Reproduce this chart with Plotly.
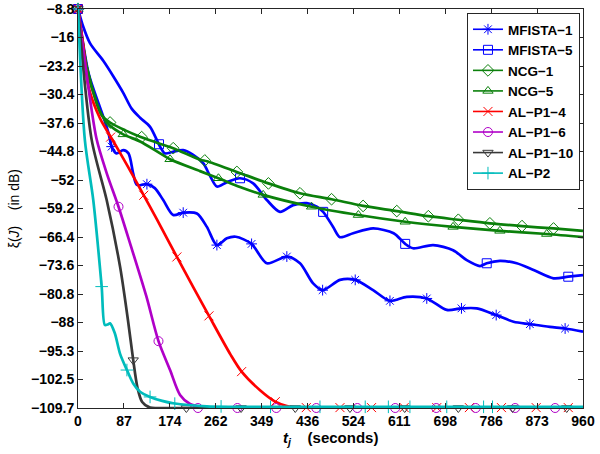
import numpy as np
import plotly.graph_objects as go

# ---------------- data ----------------
x_tick_labels = ["0", "87", "174", "262", "349", "436", "524", "611", "698", "786", "873", "960"]
y_tick_labels = ["−8.8", "−16", "−23.2", "−30.4", "−37.6", "−44.8", "−52", "−59.2",
                 "−66.4", "−73.6", "−80.8", "−88", "−95.3", "−102.5", "−109.7"]
x_min, x_max = 0, 960
y_min, y_max = -109.7, -8.8

mfista1_t = [0, 20, 40, 48, 58, 64, 73, 86, 96, 105, 112, 131, 146, 162, 181, 200, 226, 245, 264, 283,
             300, 330, 359, 397, 422, 447, 465, 498, 527, 561, 593, 625, 663, 701, 729, 758, 795, 828,
             859, 897, 926, 960]
mfista1_db = [-8.8, -25, -33, -36.0, -40.2, -43.6, -45.3, -44.5, -45.3, -50.4, -53.3, -53.1, -54.1, -57.1,
              -60.9, -60.3, -60.5, -63.9, -68.5, -66.8, -66.4, -68.2, -73.1, -71.4, -73.1, -78.2, -79.9,
              -77.3, -77.3, -79.9, -82.6, -81.6, -82.0, -84.9, -84.5, -84.5, -86.2, -87.9, -88.5, -89.2,
              -89.6, -90.4]
mfista1_mk_t = [0, 64, 131, 200, 264, 330, 397, 465, 527, 593, 663, 729, 795, 859, 926]
mfista1_mk_db = [-8.8, -43.6, -53.1, -60.3, -68.5, -68.2, -71.4, -79.9, -77.3, -82.6, -82.0, -84.5,
                 -86.2, -88.5, -89.6]

mfista5_t = [0, 10, 23, 48, 67, 86, 102, 118, 137, 156, 165, 181, 200, 219, 238, 251, 264, 283, 308,
             333, 359, 384, 409, 435, 454, 466, 485, 498, 523, 561, 600, 622, 637, 675, 713, 739, 764,
             777, 802, 834, 866, 904, 932, 960]
mfista5_db = [-8.8, -13.3, -17.5, -21.9, -25.8, -30.0, -34.0, -36.3, -38.6, -43.6, -45.3, -44.9, -44.5,
              -45.7, -47.8, -51.0, -53.7, -52.6, -51.6, -52.9, -57.1, -60.1, -58.4, -57.9, -58.8, -60.1,
              -63.9, -66.5, -65.5, -64.3, -65.5, -68.2, -69.3, -68.5, -69.8, -72.3, -73.8, -73.1, -72.5,
              -73.1, -74.8, -76.9, -76.5, -76.1]
mfista5_mk_t = [0, 154, 308, 466, 622, 777, 932]
mfista5_mk_db = [-8.8, -43.0, -51.6, -60.1, -68.2, -73.1, -76.5]

ncg1_t = [0, 16.5, 35.5, 45, 61, 90, 118, 150, 181, 232, 245, 302, 362, 422, 482, 542, 606, 666, 723,
          783, 844, 904, 960]
ncg1_db = [-8.8, -23.4, -32.6, -35.6, -37.5, -39.5, -41.1, -42.6, -44.0, -46.9, -47.3, -50.0, -52.9,
           -55.4, -56.9, -58.6, -59.9, -61.2, -62.1, -63.0, -63.7, -64.3, -64.9]
ncg1_mk_t = [0, 61, 121, 181, 241, 302, 362, 422, 482, 542, 606, 666, 723, 783, 844, 904]
ncg1_mk_db = [-8.8, -37.5, -41.2, -44.0, -47.1, -50.0, -52.9, -55.4, -56.9, -58.6, -59.9, -61.2,
              -62.1, -63.0, -63.7, -64.3]

ncg5_t = [0, 16.5, 35.5, 45, 60, 86, 118, 150, 175, 232, 267, 308, 352, 444, 533, 622, 713, 802, 891, 960]
ncg5_db = [-8.8, -23.4, -32.6, -35.6, -38.2, -40.5, -42.3, -44.8, -46.8, -49.8, -51.6, -53.8, -55.8,
           -58.8, -60.9, -62.6, -63.9, -64.9, -65.7, -66.5]
ncg5_mk_t = [0, 86, 175, 267, 352, 444, 533, 622, 713, 802, 891]
ncg5_mk_db = [-8.8, -40.5, -46.8, -51.6, -55.8, -58.8, -60.9, -62.6, -63.9, -64.9, -65.7]

alp14_t = [0, 10, 20, 42, 66, 93, 118, 150, 188, 249, 290, 311, 346, 375, 397, 420, 960]
alp14_db = [-8.8, -18.0, -28.5, -36.5, -42.0, -48.2, -54.2, -62.0, -71.5, -86.4, -96.2, -100.5, -105.2,
            -108.1, -109.2, -109.6, -109.6]
alp14_mk_t = [0, 62, 125, 188, 249, 311, 375, 434, 498, 558, 620, 682, 744, 805, 871, 932]
alp14_mk_db = [-8.8, -41.2, -55.9, -71.5, -86.4, -100.5, -108.1, -109.6, -109.6, -109.6, -109.6,
               -109.6, -109.6, -109.6, -109.6, -109.6]

alp16_t = [0, 15, 35, 55, 77, 100, 130, 153, 175, 194, 213, 235, 260, 960]
alp16_db = [-8.8, -24.0, -41.5, -50.5, -58.8, -68.5, -81.5, -92.8, -100.1, -106.4, -108.7, -109.5,
            -109.7, -109.7]
alp16_mk_t = [0, 77, 153, 228, 303, 377, 453, 531, 603, 681, 756, 831, 907]
alp16_mk_db = [-8.8, -58.8, -92.8, -109.7, -109.7, -109.7, -109.7, -109.7, -109.7, -109.7, -109.7,
               -109.7, -109.7]

alp110_t = [0, 26, 54.5, 80, 95, 105, 113, 122, 137, 160, 960]
alp110_db = [-8.8, -41.9, -57.1, -74.0, -87.5, -97.6, -104.5, -108.2, -109.6, -109.7, -109.7]
alp110_mk_t = [0, 105, 206, 310, 413, 517, 621, 723, 826, 929]
alp110_mk_db = [-8.8, -97.6, -109.7, -109.7, -109.7, -109.7, -109.7, -109.7, -109.7, -109.7]

alp2_t = [0, 13, 29, 45, 51, 56, 61, 70, 80, 93, 105, 118, 137, 160, 181, 245, 300, 960]
alp2_db = [-8.8, -41.9, -57.1, -79.0, -88.7, -88.6, -88.3, -90.8, -96.0, -100.1, -103.5, -105.6,
           -106.9, -107.9, -108.5, -109.3, -109.4, -109.4]
alp2_mk_t = [0, 45, 93, 137, 184, 272, 366, 460, 546, 590, 631, 701, 771, 788]
alp2_mk_db = [-8.8, -79.0, -100.1, -106.9, -108.6, -109.3, -109.4, -109.4, -109.4, -109.4, -109.4,
              -109.4, -109.4, -109.4]

series = [
    ("MFISTA−1", mfista1_t, mfista1_db, mfista1_mk_t, mfista1_mk_db, "#0000ff", "asterisk-open"),
    ("MFISTA−5", mfista5_t, mfista5_db, mfista5_mk_t, mfista5_mk_db, "#0000ff", "square-open"),
    ("NCG−1", ncg1_t, ncg1_db, ncg1_mk_t, ncg1_mk_db, "#0b800b", "diamond-open"),
    ("NCG−5", ncg5_t, ncg5_db, ncg5_mk_t, ncg5_mk_db, "#0b800b", "triangle-up-open"),
    ("AL−P1−4", alp14_t, alp14_db, alp14_mk_t, alp14_mk_db, "#ff0000", "x-thin-open"),
    ("AL−P1−6", alp16_t, alp16_db, alp16_mk_t, alp16_mk_db, "#b000c8", "circle-open"),
    ("AL−P1−10", alp110_t, alp110_db, alp110_mk_t, alp110_mk_db, "#383838", "triangle-down-open"),
    ("AL−P2", alp2_t, alp2_db, alp2_mk_t, alp2_mk_db, "#00bcbc", "cross-thin-open"),
]

FONT = "Liberation Sans, Arial, sans-serif"
fig = go.Figure()
for name, t, db, mt, mdb, col, sym in series:
    fig.add_trace(go.Scatter(x=t, y=db, mode="lines", showlegend=False,
                             line=dict(color=col, width=2.7, shape="spline", smoothing=0.8),
                             hoverinfo="skip"))
    fig.add_trace(go.Scatter(x=mt, y=mdb, mode="markers", showlegend=False, cliponaxis=False,
                             marker=dict(symbol=sym, size=9, color=col, line=dict(color=col, width=1))))
for name, t, db, mt, mdb, col, sym in series:
    fig.add_trace(go.Scatter(x=[None], y=[None], mode="lines+markers", name=name,
                             line=dict(color=col, width=1.6),
                             marker=dict(symbol=sym, size=9, color=col, line=dict(color=col, width=1))))

x_tickvals = list(np.linspace(x_min, x_max, len(x_tick_labels)))
y_tickvals = list(np.linspace(y_max, y_min, len(y_tick_labels)))

axis_common = dict(showline=True, linecolor="#262626", linewidth=1, mirror="ticks",
                   ticks="inside", ticklen=5, tickcolor="#262626", showgrid=False, zeroline=False,
                   automargin=False,
                   tickfont=dict(family=FONT, size=14, color="black", weight="bold"))

fig.update_layout(
    width=600, height=454,
    margin=dict(l=78, r=17, t=9, b=46),
    paper_bgcolor="white", plot_bgcolor="white",
    xaxis=dict(range=[x_min, x_max], tickvals=x_tickvals, ticktext=x_tick_labels, **axis_common),
    yaxis=dict(range=[y_min, y_max], tickvals=y_tickvals, ticktext=y_tick_labels, **axis_common),
    legend=dict(x=0.994, y=0.99, xanchor="right", yanchor="top",
                bgcolor="white", bordercolor="#262626", borderwidth=1,
                font=dict(family=FONT, size=13.5, color="black", weight="bold"),
                tracegroupgap=0, itemwidth=30),
    annotations=[
        dict(text="<b><i>t</i></b><sub><b><i>j</i></b></sub>    <b>(seconds)</b>",
             xref="paper", yref="paper", x=0.5, y=0, yshift=-19, xanchor="center", yanchor="top",
             showarrow=False, font=dict(family=FONT, size=15, color="black")),
        dict(text="ξ(<i>J</i>)    (in dB)", textangle=-90,
             xref="paper", yref="paper", x=-0.127, y=0.5, xanchor="center", yanchor="middle",
             showarrow=False, font=dict(family=FONT, size=14, color="black")),
    ],
)

fig.write_html("out.html", config={"displayModeBar": False},
               post_script="document.body.style.margin='0';document.body.style.overflow='hidden';")
